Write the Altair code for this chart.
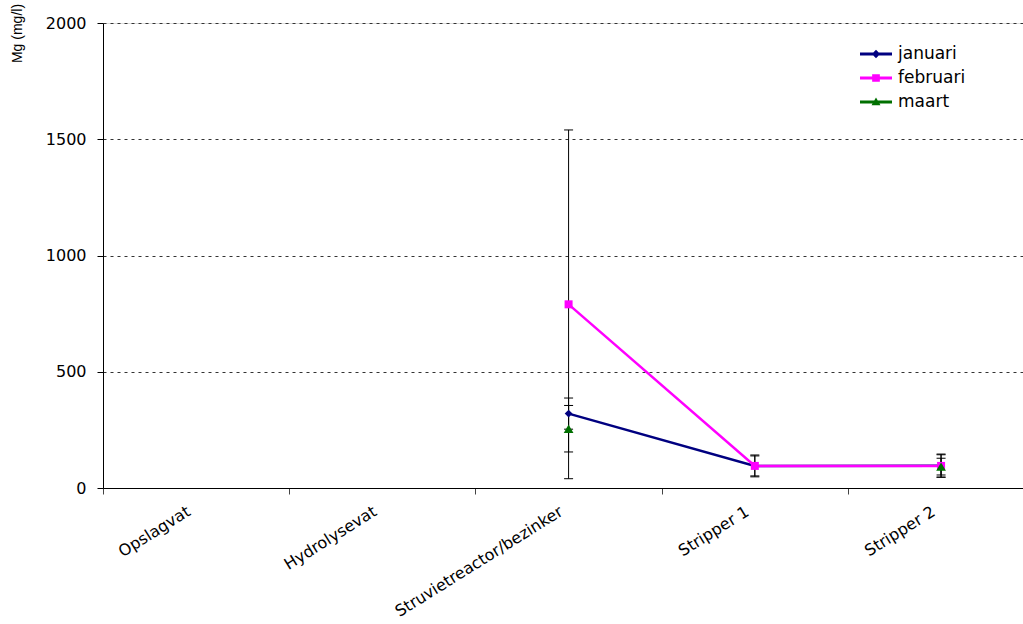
import altair as alt
import pandas as pd

# Sampling points along the treatment line
categories = ["Opslagvat", "Hydrolysevat", "Struvietreactor/bezinker", "Stripper 1", "Stripper 2"]

# Monthly Mg concentrations (mg/l) and their standard deviations
series = ["januari", "februari", "maart"]
januari = [None, None, 320, 95, 96]
januari_sd = [None, None, 67, 47, 50]
februari = [None, None, 790, 95, 95]
februari_sd = [None, None, 750, 43, 48]
maart = [None, None, 255, None, 92]
maart_sd = [None, None, 100, None, 36]

y_ticks = [0, 500, 1000, 1500, 2000]

colors = ["#000080", "#FF00FF", "#007000"]
marker_shapes = ["diamond", "square", "triangle-up"]
marker_sizes = [60, 64, 95]
# legend symbols: a short line segment with the series marker on it
bar = "M-1,-0.09L1,-0.09L1,0.09L-1,0.09Z "
legend_symbols = [
    bar + "M-0.26,0L0,-0.26L0.26,0L0,0.26Z",
    bar + "M-0.24,-0.24L0.24,-0.24L0.24,0.24L-0.24,0.24Z",
    bar + "M0,-0.28L0.28,0.2L-0.28,0.2Z",
]

rows = []
for name, vals, sds in zip(series, [januari, februari, maart],
                           [januari_sd, februari_sd, maart_sd]):
    for i, (cat, v, s) in enumerate(zip(categories, vals, sds)):
        rows.append({
            "series": name,
            "categorie": cat,
            "pos": i + 0.5,
            "mg": v,
            "lo": (v - s) if v is not None else None,
            "hi": (v + s) if v is not None else None,
        })
df = pd.DataFrame(rows)

n_cat = len(categories)
x_values = [k / 2 for k in range(2 * n_cat)]
label_expr = ("datum.value % 1 === 0 ? '' : "
              + str(categories) + "[floor(datum.value)]")

x_enc = alt.X(
    "pos:Q",
    scale=alt.Scale(domain=[0, 4.94], nice=False, zero=False),
    axis=alt.Axis(
        values=x_values,
        labelExpr=label_expr,
        labelAngle=-32,
        labelAlign="right",
        labelBaseline="top",
        labelPadding=9,
        labelOffset=-12,
        labelOverlap=False,
        labelFlush=False,
        labelLimit=0,
        labelFont="DejaVu Sans",
        labelFontSize=16,
        labelColor="black",
        tickSize=6,
        tickColor="#444444",
        tickOpacity={"condition": {"test": "datum.value % 1 === 0", "value": 1}, "value": 0},
        domainColor="black",
        grid=False,
        title=None,
    ),
)

y_scale = alt.Scale(domain=[0, 2000], nice=False)
y_enc = alt.Y(
    "mg:Q",
    scale=y_scale,
    axis=alt.Axis(
        values=y_ticks,
        format="d",
        grid=True,
        gridDash=[3, 4],
        gridColor="#333333",
        gridWidth=1,
        tickSize=6,
        tickColor="black",
        domainColor="black",
        labelPadding=11,
        labelFont="DejaVu Sans",
        labelFontSize=16,
        labelColor="black",
        title="Mg (mg/l)",
        titleFont="Liberation Sans",
        titleFontSize=14,
        titleFontWeight="normal",
        titleColor="black",
        titleAngle=270,
        titleAlign="center",
        titleBaseline="alphabetic",
        titleX=-82,
        titleY=10,
    ),
)

base = alt.Chart(df)

err_rules = base.mark_rule(color="black", strokeWidth=1).encode(
    x=x_enc, y=alt.Y("lo:Q", scale=y_scale), y2="hi:Q"
)
cap_lo = base.mark_tick(orient="horizontal", size=9, thickness=1, color="black", opacity=1).encode(
    x=x_enc, y=alt.Y("lo:Q", scale=y_scale)
)
cap_hi = base.mark_tick(orient="horizontal", size=9, thickness=1, color="black", opacity=1).encode(
    x=x_enc, y=alt.Y("hi:Q", scale=y_scale)
)

lines = [
    base.transform_filter(alt.datum.series == name)
    .mark_line(strokeWidth=2.5, color=col, invalid="break-paths-filter-domains")
    .encode(x=x_enc, y=y_enc)
    for name, col in zip(series, colors)
]

points = [
    base.transform_filter(alt.datum.series == name)
    .mark_point(shape=shape, filled=True, size=size, opacity=1, color=col)
    .encode(x=x_enc, y=y_enc)
    for name, shape, size, col in zip(series, marker_shapes, marker_sizes, colors)
]

legend_opts = dict(
    title=None,
    orient="none",
    legendX=757,
    legendY=15,
    labelFont="DejaVu Sans",
    labelFontSize=17,
    labelColor="black",
    labelOffset=6,
    symbolSize=1024,
    symbolStrokeWidth=0,
    rowPadding=-7,
    padding=0,
)
# empty layer that only carries the series legend
legend_layer = (
    base.transform_filter("false")
    .mark_point(filled=True, opacity=1)
    .encode(
        x=x_enc,
        y=y_enc,
        color=alt.Color("series:N", scale=alt.Scale(domain=series, range=colors),
                        legend=alt.Legend(**legend_opts)),
        shape=alt.Shape("series:N", scale=alt.Scale(domain=series, range=legend_symbols),
                        legend=alt.Legend(**legend_opts)),
    )
)

chart = (
    alt.layer(legend_layer, err_rules, cap_lo, cap_hi, *lines, *points)
    .properties(
        width=920,
        height=465,
        autosize=alt.AutoSizeParams(type="none"),
        padding={"left": 103, "top": 23, "right": 0, "bottom": 136},
        background="white",
    )
    .configure_view(stroke=None)
    .configure(font="DejaVu Sans")
)

chart.save("out.html", embed_options={"renderer": "svg", "actions": False})
